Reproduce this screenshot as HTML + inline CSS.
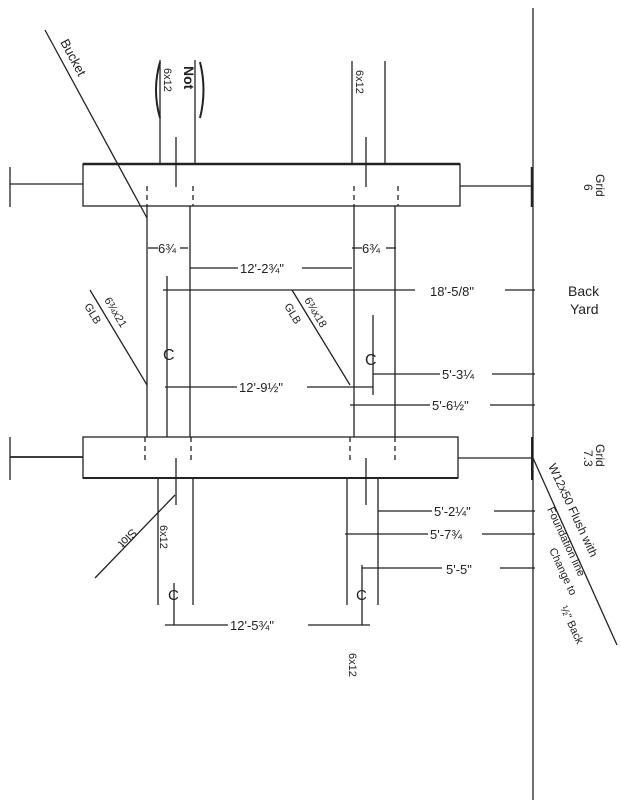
<!DOCTYPE html>
<html><head><meta charset="utf-8"><style>
html,body{margin:0;padding:0;background:#fff;}
svg{display:block}
text{font-family:"Liberation Sans",sans-serif;fill:#222;}
</style></head><body>
<svg width="621" height="800" viewBox="0 0 621 800" xmlns="http://www.w3.org/2000/svg" stroke="#222" fill="none" stroke-width="1.3">
<line x1="533" y1="8" x2="533" y2="800"/>
<rect x="83" y="164" width="377" height="42"/>
<line x1="83" y1="164" x2="460" y2="164" stroke-width="2.5"/>
<line x1="10" y1="167" x2="10" y2="207"/>
<line x1="10" y1="184" x2="83" y2="184"/>
<line x1="460" y1="186" x2="532" y2="186"/>
<line x1="532" y1="167" x2="532" y2="207" stroke-width="2.5"/>
<line x1="160" y1="60" x2="160" y2="164"/>
<line x1="195" y1="60" x2="195" y2="164"/>
<line x1="176" y1="137" x2="176" y2="187"/>
<line x1="352" y1="61" x2="352" y2="164"/>
<line x1="385" y1="61" x2="385" y2="164"/>
<line x1="366" y1="137" x2="366" y2="187"/>
<g stroke-dasharray="5,4">
<line x1="147" y1="186" x2="147" y2="206"/><line x1="193" y1="186" x2="193" y2="206"/>
<line x1="354" y1="186" x2="354" y2="206"/><line x1="398" y1="186" x2="398" y2="206"/>
<line x1="145" y1="437" x2="145" y2="460"/><line x1="191" y1="437" x2="191" y2="460"/>
<line x1="350" y1="437" x2="350" y2="460"/><line x1="395" y1="437" x2="395" y2="460"/>
</g>
<line x1="147" y1="206" x2="147" y2="437"/>
<line x1="190" y1="206" x2="190" y2="437"/>
<line x1="354" y1="206" x2="354" y2="437"/>
<line x1="395" y1="206" x2="395" y2="437"/>
<line x1="167" y1="276" x2="167" y2="437"/>
<line x1="373" y1="315" x2="373" y2="395"/>
<rect x="83" y="437" width="375" height="41"/>
<line x1="83" y1="478" x2="458" y2="478" stroke-width="2"/>
<line x1="10" y1="437" x2="10" y2="480"/>
<line x1="10" y1="457" x2="83" y2="457" stroke-width="1.8"/>
<line x1="458" y1="458" x2="532" y2="458"/>
<line x1="532" y1="437" x2="532" y2="480" stroke-width="2"/>
<line x1="176" y1="458" x2="176" y2="505"/>
<line x1="366" y1="458" x2="366" y2="505"/>
<line x1="158" y1="478" x2="158" y2="605"/><line x1="193" y1="478" x2="193" y2="605"/>
<line x1="347" y1="478" x2="347" y2="605"/><line x1="378" y1="478" x2="378" y2="605"/>
<line x1="174" y1="583" x2="174" y2="625"/><line x1="362" y1="565" x2="362" y2="625"/>
<line x1="165" y1="625" x2="228" y2="625"/><line x1="308" y1="625" x2="370" y2="625"/>
<line x1="45" y1="30" x2="147" y2="218"/>
<line x1="90" y1="290" x2="147" y2="385"/>
<line x1="292" y1="290" x2="350" y2="385"/>
<line x1="95" y1="578" x2="175" y2="495"/>
<line x1="533" y1="458" x2="617" y2="645"/>
<g>
<line x1="148" y1="248" x2="158" y2="248"/><line x1="180" y1="248" x2="188" y2="248"/>
<line x1="352" y1="248" x2="362" y2="248"/><line x1="386" y1="248" x2="396" y2="248"/>
<line x1="190" y1="268" x2="238" y2="268"/><line x1="302" y1="268" x2="352" y2="268"/>
<line x1="163" y1="290" x2="415" y2="290"/><line x1="505" y1="290" x2="535" y2="290"/>
<line x1="373" y1="374" x2="440" y2="374"/><line x1="492" y1="374" x2="535" y2="374"/>
<line x1="165" y1="387" x2="237" y2="387"/><line x1="307" y1="387" x2="373" y2="387"/>
<line x1="350" y1="405" x2="430" y2="405"/><line x1="490" y1="405" x2="535" y2="405"/>
<line x1="378" y1="511" x2="432" y2="511"/><line x1="494" y1="511" x2="535" y2="511"/>
<line x1="345" y1="534" x2="428" y2="534"/><line x1="482" y1="534" x2="535" y2="534"/>
<line x1="362" y1="568" x2="442" y2="568"/><line x1="500" y1="568" x2="535" y2="568"/>
</g>
<g fill="#222" stroke="none" font-size="13">
<text x="158" y="253">6¾</text><text x="362" y="253">6¾</text>
<text x="240" y="273">12'-2¾"</text>
<text x="430" y="296">18'-5/8"</text>
<text x="442" y="379">5'-3¼</text>
<text x="239" y="392">12'-9½"</text>
<text x="432" y="410">5'-6½"</text>
<text x="434" y="516">5'-2¼"</text>
<text x="430" y="539">5'-7¾</text>
<text x="446" y="574">5'-5"</text>
<text x="230" y="630">12'-5¾"</text>
<text x="163" y="360" font-size="16">C</text><text x="365" y="365" font-size="16">C</text>
<text x="168" y="600" font-size="15">C</text><text x="356" y="600" font-size="15">C</text>
<text x="568" y="296" font-size="14">Back</text><text x="570" y="314" font-size="14">Yard</text>
<text transform="translate(596,174) rotate(90)" font-size="12">Grid</text>
<text transform="translate(584,184) rotate(90)" font-size="12">6</text>
<text transform="translate(596,444) rotate(90)" font-size="12">Grid</text>
<text transform="translate(584,450) rotate(90)" font-size="12">7.3</text>
<text transform="translate(356,70) rotate(90)" font-size="11">6x12</text>
<text transform="translate(184,66) rotate(90)" font-size="14" font-weight="bold">Not</text>
<text transform="translate(164,68) rotate(90)" font-size="11">6x12</text>
<text transform="translate(160,525) rotate(90)" font-size="11">6x12</text>
<text transform="translate(349,653) rotate(90)" font-size="11">6x12</text>
<text transform="translate(60,42) rotate(62)" font-size="13">Bucket</text>
<text transform="translate(104,300) rotate(59)" font-size="11">6¾x21</text>
<text transform="translate(84,306) rotate(59)" font-size="11">GLB</text>
<text transform="translate(304,300) rotate(59)" font-size="11">6¾x18</text>
<text transform="translate(284,306) rotate(59)" font-size="11">GLB</text>
<text transform="translate(132,528) rotate(134)" font-size="12">Slot</text>
<text transform="translate(548,466) rotate(65)" font-size="12">W12x50 Flush with</text>
<text transform="translate(547,509) rotate(65)" font-size="11">Foundation line</text>
<text transform="translate(549,550) rotate(65)" font-size="11">Change to</text>
<text transform="translate(560,608) rotate(65)" font-size="11">½" Back</text>
</g>
<path d="M160 62 Q152 90 160 118 M200 62 Q207 90 200 118" stroke-width="2"/>
</svg>
</body></html>
